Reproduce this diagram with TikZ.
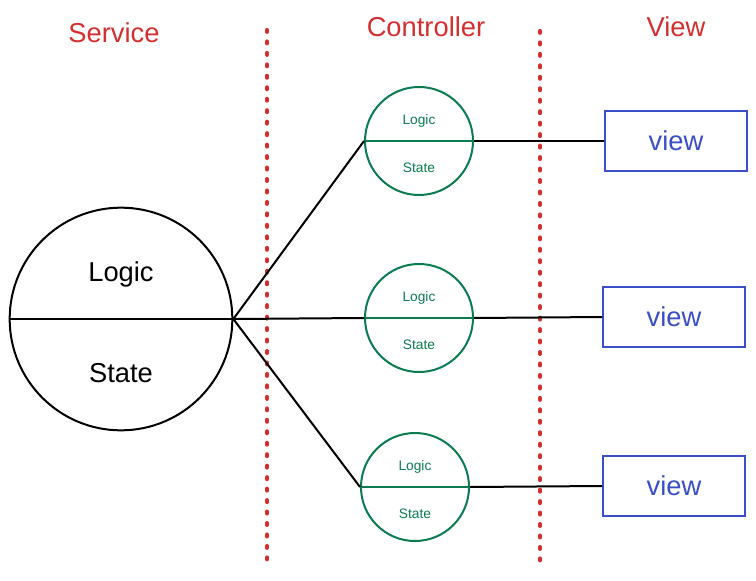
\documentclass[tikz,border=0pt]{standalone}
\usepackage{fontspec}
\setmainfont{Liberation Sans}
\definecolor{hdrred}{RGB}{211,47,47}
\definecolor{ctlgreen}{RGB}{10,124,80}
\definecolor{viewblue}{RGB}{58,78,200}
\begin{document}
\begin{tikzpicture}[x=0.75pt,y=-0.75pt,
  hdr/.style={text=hdrred,font=\fontsize{20.5pt}{24pt}\selectfont,inner sep=0pt},
  bigtxt/.style={font=\fontsize{20.5pt}{24pt}\selectfont,inner sep=0pt},
  smalltxt/.style={text=ctlgreen,font=\fontsize{10.3pt}{12pt}\selectfont,inner sep=0pt},
  svc/.style={circle,draw=black,line width=1.5pt,minimum size=167pt,inner sep=0pt},
  ctl/.style={circle,draw=ctlgreen,line width=1.5pt,minimum size=81pt,inner sep=0pt},
  viewbox/.style={draw=viewblue,line width=1.5pt,minimum width=106.5pt,minimum height=45pt,inner sep=0pt,text=viewblue,font=\fontsize{20.5pt}{24pt}\selectfont},
  sep/.style={draw=hdrred,line width=3.1pt,line cap=round,dash pattern=on 1.4pt off 7.2pt},
  conn/.style={draw=black,line width=1.5pt}]
\useasboundingbox (0,0) rectangle (756,581);
% separators
\coordinate (s1t) at (267,30);
\coordinate (s1b) at (267,561);
\coordinate (s2t) at (540,31);
\coordinate (s2b) at (540,562);
\draw[sep] (s1t) -- (s1b);
\draw[sep] (s2t) -- (s2b);
% headers
\node[hdr] (hsvc) at (114,32.5) {Service};
\node[hdr] (hctl) at (426,27) {Controller};
\node[hdr] (hview) at (676,27) {View};
% service circle
\node[svc] (svc) at (121,319) {};
\draw[conn] (svc.west) -- (svc.east);
\node[bigtxt] (svcL) at (121,274.5) {Logic};
\node[bigtxt] (svcS) at (121,373) {State};
% controllers
\node[ctl] (c1) at (419,141) {};
\node[ctl] (c2) at (419,318) {};
\node[ctl] (c3) at (415,487) {};
\foreach \c in {c1,c2,c3}{
  \draw[draw=ctlgreen,line width=1.5pt] (\c.west) -- (\c.east);
  \node[smalltxt] (\c L) at ([yshift=15.2pt]\c.center) {Logic};
  \node[smalltxt] (\c S) at ([yshift=-20pt]\c.center) {State};
}
% views
\node[viewbox] (v1) at (676,141) {view};
\node[viewbox] (v2) at (674,317) {view};
\node[viewbox] (v3) at (674,486) {view};
% connectors
\draw[conn] (svc.east) -- (c1.west);
\draw[conn] (svc.east) -- (c2.west);
\draw[conn] (svc.east) -- (c3.west);
\draw[conn] (c1.east) -- (v1.west);
\draw[conn] (c2.east) -- (v2.west);
\draw[conn] (c3.east) -- (v3.west);
\end{tikzpicture}
\end{document}
